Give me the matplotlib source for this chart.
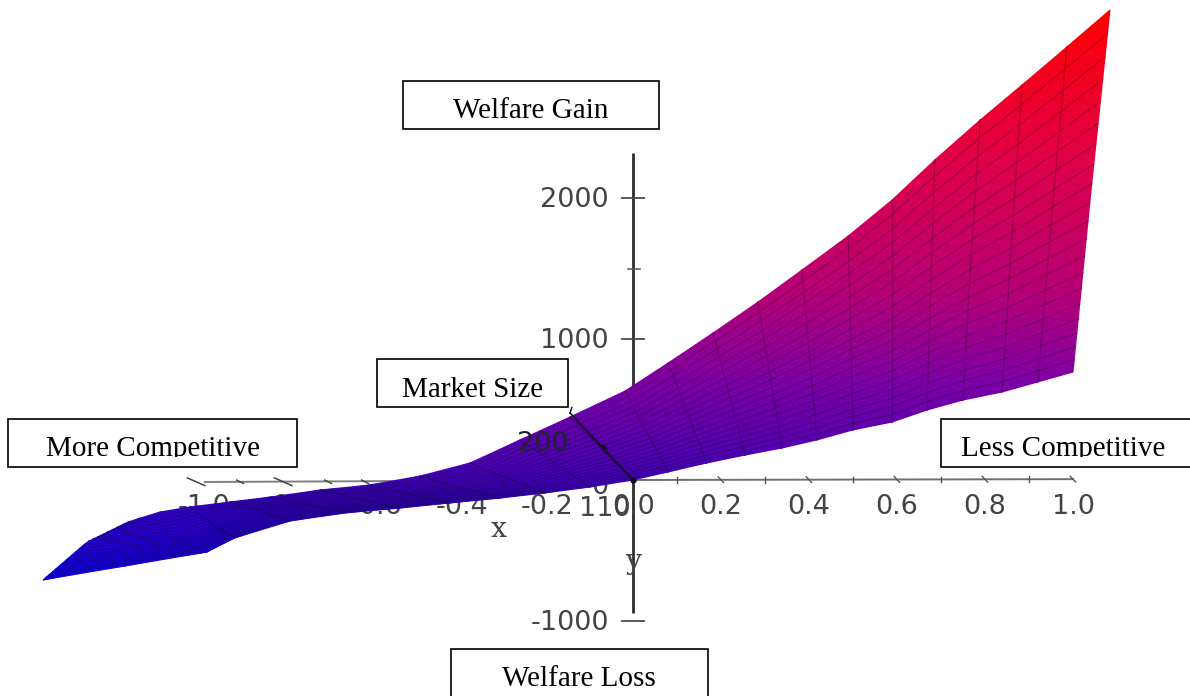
import numpy as np
import matplotlib
matplotlib.use("Agg")
import matplotlib.pyplot as plt
from matplotlib.colors import LinearSegmentedColormap
from matplotlib.patches import Rectangle
from matplotlib.transforms import Bbox, TransformedBbox

# Surface rails (x units, z units), left to right
top_x = [-1.148,-1.120,-1.075,-1.007,-0.916,-0.825,-0.711,-0.598,-0.484,-0.370,-0.257,-0.143,-0.018,0.080,0.182,0.284,0.384,0.489,0.589,0.686,0.789,0.884,0.986,1.084]
top_z = [-298,-270,-227,-191,-156,-121,-71,-35,28,121,284,447,631,830,1043,1262,1489,1730,1986,2270,2553,2801,3071,3333]
mid_x = [-1.241,-1.132,-1.018,-0.950,-0.848,-0.739,-0.620,-0.507,-0.393,-0.284,-0.177,-0.073,0.031,0.124,0.218,0.311,0.401,0.495,0.589,0.677,0.768,0.861,0.952,1.041]
mid_z = [-440,-426,-404,-326,-220,-177,-135,-99,-50,14,121,227,344,475,610,744,886,1042,1198,1383,1560,1716,1887,2050]
bot_x = [-1.341,-1.155,-0.968,-0.905,-0.780,-0.655,-0.530,-0.416,-0.302,-0.200,-0.098,0.0,0.080,0.168,0.255,0.339,0.418,0.500,0.589,0.668,0.750,0.839,0.920,1.000]
bot_z = [-709,-610,-511,-411,-291,-234,-199,-163,-128,-92,-50,0,57,121,177,227,284,355,411,496,567,624,695,766]

x_tick_labels = ["-1.0","-0.8","-0.6","-0.4","-0.2","0.0","0.2","0.4","0.6","0.8","1.0"]
x_tick_pos = [-0.975,-0.78,-0.585,-0.389,-0.195,0.002,0.2,0.4,0.6,0.8,1.0]
x_minor = [0.1,0.2,0.3,0.4,0.5,0.6,0.7,0.8,0.9,1.0]
x_left_major = [-0.993,-0.795]
x_left_minor = [-0.893,-0.693,-0.609]
z_ticks = [2000,1000,-1000]
z_minor = [1500]
box_labels = ["Welfare Gain","Market Size","More Competitive","Less Competitive","Welfare Loss"]

W, H = 1190, 696
fig = plt.figure(figsize=(W/100, H/100), dpi=100, facecolor="white")
ax = fig.add_axes([0, 0, 1, 1])
ax.set_xlim(-633/440, (W-633)/440)
ax.set_ylim((480-H)/0.141, 480/0.141)
ax.axis("off")

GREY = "#4a4a4a"
LAB = "#444444"
FS = 19.5

# axes below the surface
ax.plot([0, 0], [-940, 2320], color="#2e2e2e", lw=2.0, zorder=1, solid_capstyle="butt")
ax.plot([-0.973, 0], [-14, 0], color="#808080", lw=1.4, zorder=1)
ax.plot([0, 1.0], [0, 6], color="#707070", lw=1.4, zorder=1)
for v in x_minor:
    d = 0.006 if round(v*10) % 2 == 0 else 0.0
    ax.plot([v-d, v+d], [6*v+20, 6*v-20], color="#555555", lw=1.0, zorder=1)
for v in x_left_major:
    ax.plot([v-0.02, v+0.02], [15, -40], color="#444444", lw=1.1, zorder=1)
for v in x_left_minor:
    ax.plot([v-0.008, v+0.008], [0, -25], color="#444444", lw=1.0, zorder=1)
for v in z_ticks:
    ax.plot([-0.025, 0.026], [v, v], color=GREY, lw=1.3, zorder=1)
    ax.text(-0.055, v-66, str(v), ha="right", va="baseline", fontsize=FS, color=LAB, zorder=1)
for v in z_minor:
    ax.plot([-0.012, 0.016], [v, v], color="#555555", lw=1.1, zorder=1)
for lab, p in zip(x_tick_labels, x_tick_pos):
    ax.text(p, -241, lab, ha="center", va="baseline", fontsize=FS, color=LAB, zorder=1)
ax.text(-0.064, -255, "110", ha="center", va="baseline", fontsize=FS, color=LAB, zorder=1)
ax.text(-0.075, -99, "0", ha="center", va="baseline", fontsize=FS, color=LAB, zorder=1)

# surface
cmap_pos = [-709, -100, 700, 1300, 2300, 3333]
cmap_col = ["#1000e0", "#3800b8", "#7d00a5", "#b40078", "#e10046", "#ff0000"]
zmin, zmax = min(cmap_pos), max(cmap_pos)
cmap = LinearSegmentedColormap.from_list(
    "h", [((p-zmin)/(zmax-zmin), c) for p, c in zip(cmap_pos, cmap_col)])

rail_t = [0.0, 0.5, 1.0]
n_long = 20
u = np.linspace(0, 1, n_long+1)
t = (u + 0.5*u**2) / 1.5
xr = np.array([bot_x, mid_x, top_x], float)
zr = np.array([bot_z, mid_z, top_z], float)
X = np.array([np.interp(t, rail_t, xr[:, i]) for i in range(xr.shape[1])])
Z = np.array([np.interp(t, rail_t, zr[:, i]) for i in range(zr.shape[1])])
ax.pcolormesh(X, Z, Z, shading="gouraud", cmap=cmap, vmin=zmin, vmax=zmax, zorder=2)
for j in range(1, n_long):
    ax.plot(X[:, j], Z[:, j], color="black", alpha=0.22, lw=0.9, zorder=3)
for i in range(3, X.shape[0]-1):
    ax.plot(X[i], Z[i], color="black", alpha=0.22, lw=1.0, zorder=3)

# y axis over the surface
ax.plot([0, -0.143], [0, 475], color="#141414", lw=1.2, zorder=4)
ax.plot([-0.143, -0.139], [475, 515], color="#141414", lw=1.0, zorder=4)
ax.plot([-0.075, -0.06], [248, 225], color="#141414", lw=1.6, zorder=4)
ax.plot([0], [0], "o", ms=3.5, color="#101018", zorder=4)
ax.text(-0.205, 206, "200", ha="center", va="baseline", fontsize=FS, color="#22222e", zorder=5)
ax.text(-0.305, -405, "x", ha="center", va="baseline", fontsize=FS+1, family="DejaVu Serif", color=LAB, zorder=5)
ax.text(0.0, -633, "y", ha="center", va="baseline", fontsize=FS+1, family="DejaVu Serif", color=LAB, zorder=5)

# annotation boxes in pixel positions
boxes = [(403, 81, 659, 129), (377, 359, 568, 407), (8, 419, 297, 467), (941, 419, 1192, 467), (451, 649, 708, 698)]
text_pos = [(531, 118), (473, 397), (152.5, 456), (1063.5, 456), (578.5, 686)]
for lab, (x0, y0, x1, y1), (tx, ty) in zip(box_labels, boxes, text_pos):
    fig.add_artist(Rectangle((x0/W, 1-y1/H), (x1-x0)/W, (y1-y0)/H, transform=fig.transFigure,
                             facecolor="white", edgecolor="black", lw=1.2, zorder=10))
    txt = fig.text(tx/W, 1-ty/H, lab, ha="center", va="baseline", family="Liberation Serif",
                   fontsize=21, color="black", zorder=11)
    if "Competitive" in lab:
        txt.set_clip_box(TransformedBbox(Bbox([[x0/W, 1-456.5/H], [x1/W, 1-y0/H]]), fig.transFigure))
        txt.set_clip_on(True)

fig.savefig("out.png", dpi=100)
